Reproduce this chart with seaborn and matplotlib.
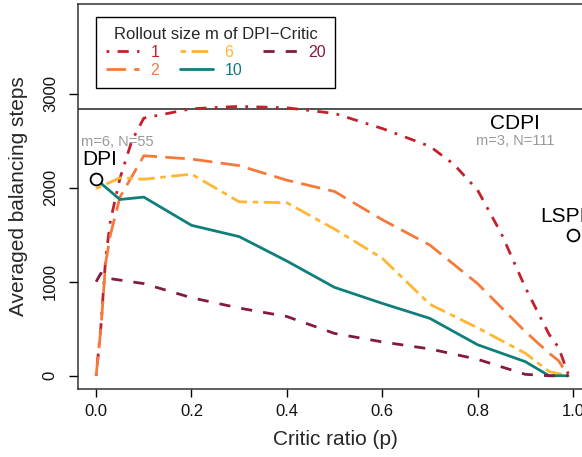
import numpy as np
import pandas as pd
import matplotlib
matplotlib.use("Agg")
import matplotlib.pyplot as plt
from matplotlib.lines import Line2D
import seaborn as sns

# ---- data ----
p_m1 = [0, 0.01, 0.02, 0.03, 0.05, 0.075, 0.1, 0.2, 0.3, 0.4, 0.5, 0.6, 0.7, 0.75, 0.8, 0.85, 0.9, 0.93, 0.95, 0.97, 0.99]
m1 = [0, 520, 1250, 1650, 2100, 2500, 2740, 2840, 2865, 2850, 2790, 2630, 2440, 2250, 1975, 1510, 940, 640, 440, 300, 20]

p_m2 = [0, 0.01, 0.02, 0.03, 0.05, 0.1, 0.2, 0.3, 0.4, 0.5, 0.6, 0.7, 0.8, 0.9, 0.95, 0.97, 0.99]
m2 = [0, 500, 1200, 1500, 1900, 2340, 2305, 2235, 2080, 1960, 1660, 1390, 980, 470, 240, 160, 0]

p_m6 = [0, 0.05, 0.1, 0.2, 0.3, 0.4, 0.5, 0.6, 0.7, 0.8, 0.9, 0.95, 0.99]
m6 = [1990, 2105, 2090, 2145, 1850, 1840, 1560, 1250, 760, 510, 240, 45, 0]

p_m10 = [0, 0.05, 0.1, 0.2, 0.3, 0.4, 0.5, 0.6, 0.7, 0.8, 0.9, 0.95, 0.99]
m10 = [2090, 1875, 1900, 1600, 1480, 1220, 940, 770, 610, 330, 150, 0, 0]

p_m20 = [0, 0.01, 0.02, 0.1, 0.2, 0.3, 0.4, 0.5, 0.6, 0.7, 0.8, 0.9, 0.95, 0.99]
m20 = [1000, 1090, 1040, 980, 830, 720, 630, 450, 360, 285, 175, 15, 0, 0]

rollout_sizes = ["1", "2", "6", "10", "20"]
cdpi_level = 2837
dpi_point = (0.0, 2090)
lspi_point = (1.0, 1500)

x_ticks = [0.0, 0.2, 0.4, 0.6, 0.8, 1.0]
y_ticks = [0, 1000, 2000, 3000]

# ---- style ----
colors = {"1": "#C3202B", "2": "#F47A3C", "6": "#FDB733", "10": "#0E7F7A", "20": "#841A40"}
dashes = {"1": (1, 3, 4, 3), "2": (7, 3), "6": (2, 2, 6, 2), "10": "", "20": (4, 4)}

frames = []
for name, px, py in [("1", p_m1, m1), ("2", p_m2, m2), ("6", p_m6, m6),
                     ("10", p_m10, m10), ("20", p_m20, m20)]:
    frames.append(pd.DataFrame({"p": px, "steps": py, "m": name}))
df = pd.concat(frames, ignore_index=True)

sns.set_style("ticks")
plt.rcParams["font.family"] = ["Liberation Sans", "DejaVu Sans"]

W, H = 582, 457
fig = plt.figure(figsize=(W / 100, H / 100), dpi=100)
left, right, bottom, top = 78, 592, 389, 4
ax = fig.add_axes([left / W, 1 - bottom / H, (right - left) / W, (bottom - top) / H])

sns.lineplot(data=df, x="p", y="steps", hue="m", style="m", hue_order=rollout_sizes,
             style_order=rollout_sizes, palette=colors, dashes=dashes,
             estimator=None, sort=False, linewidth=2.0, legend=False, ax=ax)
for line in ax.get_lines():
    line.set_dash_capstyle("butt")

ax.axhline(cdpi_level, color="#222222", lw=1.1, zorder=1)

ax.plot([dpi_point[0]], [dpi_point[1]], marker="o", ms=8.5, mfc="white", mec="black",
        mew=1.3, ls="none", zorder=5, clip_on=False)
ax.plot([lspi_point[0]], [lspi_point[1]], marker="o", ms=8.5, mfc="white", mec="black",
        mew=1.3, ls="none", zorder=5, clip_on=False)

ax.text(0.008, 2295, "DPI", fontsize=15, ha="center", va="center", color="black")
ax.text(0.044, 2489, "m=6, N=55", fontsize=10.5, ha="center", va="center", color="#999999")
ax.text(0.879, 2685, "CDPI", fontsize=15, ha="center", va="center", color="black")
ax.text(0.879, 2500, "m=3, N=111", fontsize=10.5, ha="center", va="center", color="#999999")
ax.text(0.931, 1691, "LSPI", fontsize=15, ha="left", va="center", color="black")

ax.set_xlim(-0.038, 1.04)
ax.set_ylim(-141, 3954)
ax.set_xticks(x_ticks)
ax.set_xticklabels([f"{v:.1f}" for v in x_ticks])
ax.set_yticks(y_ticks)
ax.set_yticklabels([str(v) for v in y_ticks], rotation=90, va="center")
ax.tick_params(axis="both", direction="out", length=6, width=1, labelsize=12,
               color="black", labelcolor="#111111", pad=5)
ax.tick_params(axis="y", length=6.5, pad=8)
ax.set_xlabel("Critic ratio (p)", fontsize=15, labelpad=8)
ax.set_ylabel("Averaged balancing steps", fontsize=15, labelpad=11)
for s in ax.spines.values():
    s.set_color("#333333")
    s.set_linewidth(1.1)

handles = [Line2D([0], [0], color=colors[k], lw=2.0,
                  dashes=(dashes[k] if dashes[k] != "" else (None, None)),
                  dash_capstyle="butt") for k in rollout_sizes]
leg = ax.legend(handles, rollout_sizes, title="Rollout size m of DPI\u2212Critic",
                ncol=3, loc="upper left", bbox_to_anchor=(96 / W, 1 - 17 / H),
                bbox_transform=fig.transFigure, borderaxespad=0, fancybox=False,
                frameon=True, edgecolor="black", framealpha=1, fontsize=11.5,
                title_fontsize=12, handlelength=2.1, handletextpad=0.7,
                columnspacing=1.3, labelspacing=0.2, borderpad=0.6)
leg.get_frame().set_linewidth(1.0)
for t, k in zip(leg.get_texts(), rollout_sizes):
    t.set_color(colors[k])

fig.savefig("out.png", dpi=100)
